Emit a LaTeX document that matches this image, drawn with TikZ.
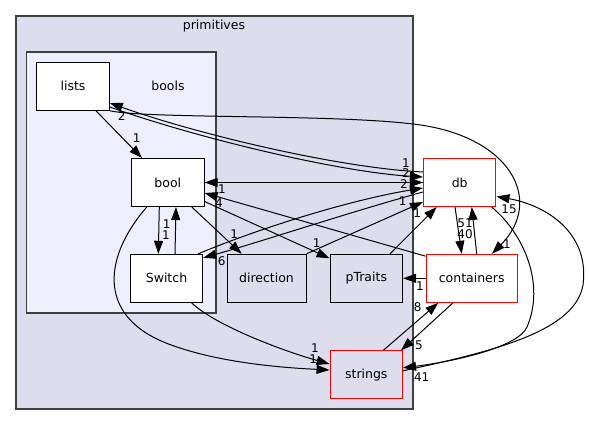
\documentclass[tikz,border=0pt]{standalone}
\usepackage{fontspec}
\setmainfont{DejaVu Sans}
\usetikzlibrary{arrows.meta,positioning,calc}
\definecolor{clusterbg}{HTML}{DDDDEE}
\definecolor{innerbg}{HTML}{EEEEFF}
\tikzset{
    cluster/.style={draw=black!75,line width=1.2pt},
    dir box/.style={draw=black,line width=1pt,minimum width=72.5pt,minimum height=48pt,inner sep=0pt},
    leaf dir/.style={dir box,fill=white},
    sub dir/.style={dir box,fill=clusterbg},
    ext dir/.style={dir box,draw=red,fill=white},
    arr/.style={-{Triangle[length=13pt,width=9pt]},line width=1pt},
    cnt/.style={inner sep=0pt,font=\fontsize{12pt}{14pt}\selectfont},
}
\tikzstyle{every node}=[font=\fontsize{12.5pt}{15pt}\selectfont]

\begin{document}
\begin{tikzpicture}[x=1pt,y=-1pt]
    \useasboundingbox (0,0) rectangle (589,425);
    % clusters
    \filldraw[cluster,fill=clusterbg] (16,16) rectangle (413,409);
    \node (primitiveslabel) at (214,26) {primitives};
    \filldraw[cluster,fill=innerbg] (26.5,52) rectangle (216,313);
    \node (boolslabel) at (168,86) {bools};
    % directories
    \node[leaf dir] (lists) at (73,86.3) {lists};
    \node[leaf dir] (bool) at (167.8,182.5) {bool};
    \node[leaf dir] (Switch) at (166.5,278.3) {Switch};
    \node[sub dir,minimum width=79pt] (direction) at (266.5,278.3) {direction};
    \node[sub dir] (pTraits) at (366.3,278.3) {pTraits};
    \node[ext dir,fill=clusterbg] (strings) at (366.3,374.8) {strings};
    \node[ext dir] (db) at (459.7,182.5) {db};
    \node[ext dir,minimum width=91.3pt] (containers) at (471.7,278.3) {containers};
    % dependencies
    \draw[arr] ([xshift=23pt]lists.south) -- ([xshift=-25.8pt]bool.north)
        node[cnt] at (136.7,137.7) {1};
    \draw[arr] ([yshift=10.5pt]db.west) .. controls (340,168) and (200,135) .. ([yshift=-16.7pt]lists.east)
        node[cnt] at (121.7,116) {2};
    \draw[arr] ([yshift=-20.7pt]lists.east) .. controls (200,139) and (340,172) .. ([yshift=5.5pt]db.west)
        node[cnt] at (406,162.8) {1};
    \draw[arr] (lists.south east) .. controls (150,119) and (330,114) .. (413,124)
        .. controls (510,135) and (545,200) .. ([xshift=20.3pt]containers.north)
        node[cnt] at (507,244) {1};
    \draw[arr] (bool.east) -- (db.west)
        node[cnt] at (406,173.5) {2};
    \draw[arr] (db.west) -- (bool.east)
        node[cnt] at (222,189.5) {1};
    \draw[arr] ([yshift=-2.4pt]containers.north west) -- ([yshift=-10.5pt]bool.east)
        node[cnt] at (219,203.5) {4};
    \draw[arr] ([xshift=-8.5pt]bool.south) -- ([xshift=-8.2pt]Switch.north)
        node[cnt] at (166,235) {1};
    \draw[arr] ([xshift=8.5pt]Switch.north) -- ([xshift=8.2pt]bool.south)
        node[cnt] at (166.7,224) {1};
    \draw[arr] ([xshift=24pt]bool.south) -- ([xshift=-24.8pt]direction.north)
        node[cnt] at (234.3,234.3) {1};
    \draw[arr] ([yshift=-19pt]bool.east) -- ([yshift=-4.5pt]pTraits.north west)
        node[cnt] at (316.7,243.3) {1};
    \draw[arr] ([xshift=-5pt]Switch.north east) .. controls (260,228) and (350,200) .. ([yshift=-5.5pt]db.west)
        node[cnt] at (404,184.2) {2};
    \draw[arr] ([yshift=-9.5pt]db.west) .. controls (350,212) and (260,242) .. ([yshift=-4pt]Switch.north east)
        node[cnt] at (221.7,261) {6};
    \draw[arr] (direction.north east) -- ([yshift=5pt]db.south west)
        node[cnt] at (402.7,201.5) {1};
    \draw[arr] ([xshift=23.7pt]pTraits.north) -- ([xshift=-23pt]db.south)
        node[cnt] at (417.3,213.3) {1};
    \draw[arr] (containers.west) -- (pTraits.east)
        node[cnt] at (420,285.7) {1};
    \draw[arr] ([xshift=5pt]containers.north) -- ([xshift=12pt]db.south)
        node[cnt] at (465,223.5) {51};
    \draw[arr] ([xshift=-4.7pt]db.south) -- ([xshift=-10pt]containers.north)
        node[cnt] at (465,234) {40};
    \draw[arr] ([xshift=32pt]db.south) .. controls (525,235) and (545,285) .. (527,327)
        .. controls (518,348) and (450,362) .. ([yshift=7pt]strings.east)
        node[cnt] at (421.7,377) {41};
    \draw[arr] ([yshift=4pt]strings.east) .. controls (500,350) and (575,330) .. (583,285)
        .. controls (590,232) and (545,205) .. ([yshift=-14pt]db.east)
        node[cnt] at (509,209) {15};
    \draw[arr] ([xshift=17pt]strings.north) -- ([xshift=-33.4pt]containers.south)
        node[cnt] at (417.7,307.3) {8};
    \draw[arr] ([xshift=-18.7pt]containers.south) -- ([xshift=-2pt]strings.north east)
        node[cnt] at (419,345) {5};
    \draw[arr] ([xshift=-21pt]bool.south) .. controls (105,255) and (95,315) .. (166.7,343.3)
        .. controls (220,364) and (290,368) .. ([yshift=4.8pt]strings.west)
        node[cnt] at (313.3,359.3) {1};
    \draw[arr] ([xshift=25pt]Switch.south) .. controls (215,325) and (280,350) .. ([yshift=10.8pt]strings.west)
        node[cnt] at (315,348.3) {1};
\end{tikzpicture}
\end{document}
